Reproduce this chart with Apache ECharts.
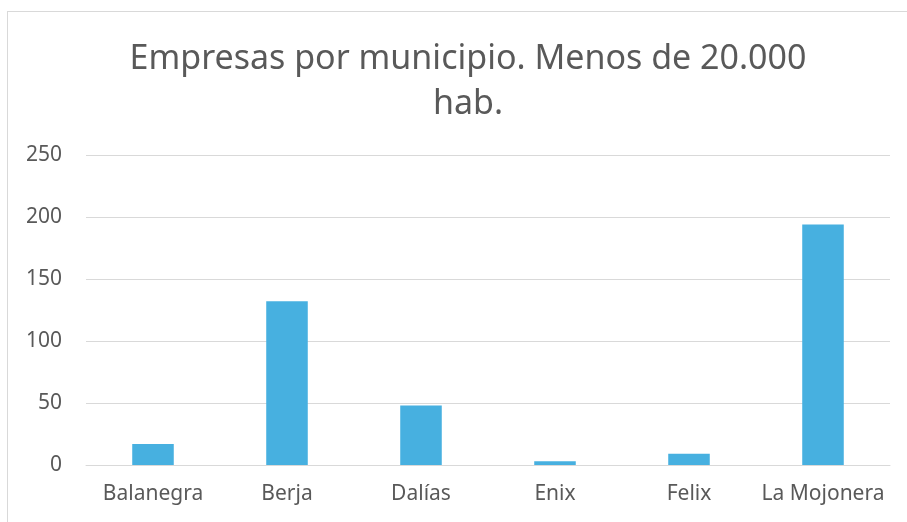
<!DOCTYPE html>
<html>
<head>
<meta charset="utf-8">
<script src="https://cdn.jsdelivr.net/npm/echarts@6/dist/echarts.min.js"></script>
<style>
  html, body { margin: 0; padding: 0; background: #fff; overflow: hidden; }
  .frame {
    position: absolute;
    left: 7px;
    top: 11px;
    width: 1000px;
    height: 1000px;
    border: 1px solid #d9d9d9;
  }
  #chart { position: absolute; left: 0; top: 0; width: 907px; height: 522px; }
</style>
</head>
<body>
<div class="frame"></div>
<div id="chart"></div>
<script>
  const municipios = ['Balanegra', 'Berja', 'Dalías', 'Enix', 'Felix', 'La Mojonera'];
  const empresas = [17, 132, 48, 3, 9, 194];
  const titulo = 'Empresas por municipio. Menos de 20.000\nhab.';

  const myChart = echarts.init(document.getElementById('chart'), null, { renderer: 'canvas' });
  const textColor = '#595959';

  const option = {
    animation: false,
    title: {
      text: titulo,
      left: 463,
      textAlign: 'center',
      top: 32,
      textStyle: {
        fontFamily: 'Noto Sans',
        fontWeight: 'normal',
        fontSize: 34,
        lineHeight: 45,
        color: textColor
      }
    },
    grid: {
      left: 86,
      right: 17,
      top: 155,
      bottom: 57,
      containLabel: false
    },
    xAxis: {
      type: 'category',
      data: municipios,
      axisLine: { show: true, lineStyle: { color: '#d9d9d9', width: 1 } },
      axisTick: { show: false },
      axisLabel: {
        interval: 0,
        hideOverlap: false,
        color: textColor,
        fontFamily: 'Noto Sans',
        fontSize: 21,
        margin: 19
      }
    },
    yAxis: {
      type: 'value',
      min: 0,
      max: 250,
      interval: 50,
      axisLine: { show: false },
      axisTick: { show: false },
      splitLine: { lineStyle: { color: '#d9d9d9', width: 1 } },
      axisLabel: {
        color: textColor,
        fontFamily: 'Noto Sans',
        fontSize: 21,
        margin: 24
      }
    },
    series: [
      {
        type: 'bar',
        data: empresas,
        barWidth: '31%',
        itemStyle: { color: '#47b0e0' }
      }
    ]
  };

  myChart.setOption(option);
</script>
</body>
</html>
